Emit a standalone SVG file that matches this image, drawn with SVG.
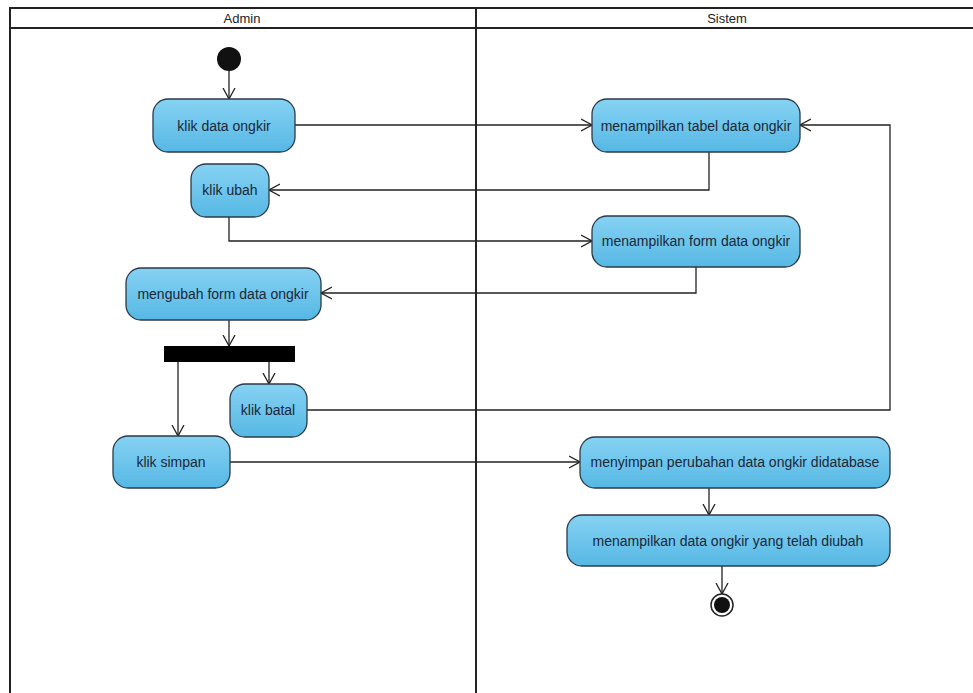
<svg xmlns="http://www.w3.org/2000/svg" width="973" height="693" viewBox="0 0 973 693">
<style>
.lane{fill:none;stroke:#222;stroke-width:2}
.lt{font-family:"Liberation Sans",Arial,sans-serif;font-size:13px;fill:#222;text-anchor:middle}
.act rect{fill:url(#g);stroke:#2b3a48;stroke-width:1.3}
.act text{font-family:"Liberation Sans",Arial,sans-serif;font-size:14px;fill:#1b2838;text-anchor:middle;dominant-baseline:central}
.c{fill:none;stroke:#222;stroke-width:1.3}
</style>
<defs>
<linearGradient id="g" x1="0" y1="0" x2="0" y2="1">
<stop offset="0" stop-color="#86d2f3"/>
<stop offset="1" stop-color="#56b8e4"/>
</linearGradient>
<marker id="a" viewBox="0 0 12 14" refX="11" refY="7" markerWidth="12" markerHeight="14" markerUnits="userSpaceOnUse" orient="auto">
<path d="M0,1 L11,7 L0,13" fill="none" stroke="#222" stroke-width="1.3"/>
</marker>
</defs>
<rect width="973" height="693" fill="#fff"/>
<g id="swimlanes">
<rect class="lane" x="10" y="8" width="975" height="700"/>
<line class="lane" x1="10" y1="28" x2="985" y2="28" stroke-width="2.5"/>
<line class="lane" x1="476" y1="8" x2="476" y2="700" stroke-width="3"/>
<text class="lt" x="242" y="23">Admin</text>
<text class="lt" x="727" y="23">Sistem</text>
</g>
<g id="connectors">
<path class="c" d="M229,71 V99" marker-end="url(#a)"/>
<path class="c" d="M295,125 H592" marker-end="url(#a)"/>
<path class="c" d="M709,152 V190 H269" marker-end="url(#a)"/>
<path class="c" d="M229,217 V241 H592" marker-end="url(#a)"/>
<path class="c" d="M696,267 V293 H321" marker-end="url(#a)"/>
<path class="c" d="M229,320 V346" marker-end="url(#a)"/>
<path class="c" d="M178,362 V436" marker-end="url(#a)"/>
<path class="c" d="M269,362 V384" marker-end="url(#a)"/>
<path class="c" d="M307,410 H890 V125 H800" marker-end="url(#a)"/>
<path class="c" d="M230,462 H580" marker-end="url(#a)"/>
<path class="c" d="M709,488 V515" marker-end="url(#a)"/>
<path class="c" d="M722,566 V594" marker-end="url(#a)"/>
</g>
<g id="start"><circle cx="229" cy="59" r="12" fill="#111"/></g>
<g id="end"><circle cx="722" cy="605" r="11" fill="#fff" stroke="#222" stroke-width="1.5"/><circle cx="722" cy="605" r="8" fill="#111"/></g>
<g id="fork"><rect x="164" y="346" width="131" height="16" fill="#000"/></g>
<g id="klikData" class="act"><rect x="153" y="99" width="142" height="53" rx="15"/><text x="224" y="126">klik data ongkir</text></g>
<g id="klikUbah" class="act"><rect x="191" y="164" width="78" height="53" rx="15"/><text x="230" y="190">klik ubah</text></g>
<g id="tabel" class="act"><rect x="592" y="99" width="208" height="53" rx="15"/><text x="696" y="126">menampilkan tabel data ongkir</text></g>
<g id="form" class="act"><rect x="592" y="216" width="208" height="51" rx="15"/><text x="696" y="241">menampilkan form data ongkir</text></g>
<g id="mengubah" class="act"><rect x="126" y="268" width="195" height="52" rx="15"/><text x="223" y="294">mengubah form data ongkir</text></g>
<g id="klikBatal" class="act"><rect x="230" y="384" width="77" height="53" rx="15"/><text x="268" y="410">klik batal</text></g>
<g id="klikSimpan" class="act"><rect x="113" y="436" width="117" height="52" rx="15"/><text x="171" y="462">klik simpan</text></g>
<g id="menyimpan" class="act"><rect x="580" y="437" width="310" height="51" rx="15"/><text x="735" y="462">menyimpan perubahan data ongkir didatabase</text></g>
<g id="menampilkanData" class="act"><rect x="567" y="515" width="323" height="51" rx="15"/><text x="728" y="541">menampilkan data ongkir yang telah diubah</text></g>
</svg>
